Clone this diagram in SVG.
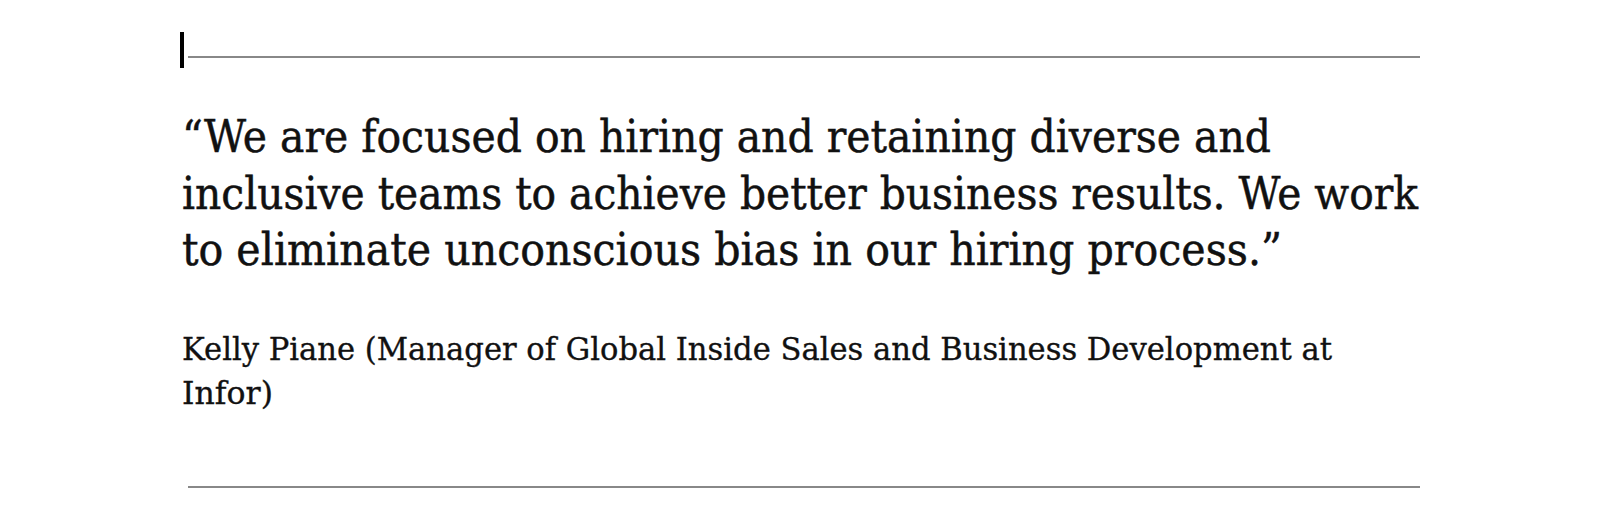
<svg xmlns="http://www.w3.org/2000/svg" width="1602" height="526" viewBox="0 0 1602 526">
  <style>
    .rule { stroke: #888888; stroke-width: 2; fill: none; }
    .quote { font-family: "DejaVu Serif", "Liberation Serif", serif; font-size: 45px; fill: #111111; stroke: #111111; stroke-width: 0.5px; }
    .attr { font-family: "DejaVu Serif", "Liberation Serif", serif; font-size: 32px; fill: #111111; stroke: #111111; stroke-width: 0.35px; }
  </style>
  <rect x="0" y="0" width="1602" height="526" fill="#ffffff"/>
  <g id="top-rule">
    <rect x="180" y="32" width="4" height="36" fill="#000000"/>
    <line class="rule" x1="188" y1="57" x2="1420" y2="57"/>
  </g>
  <g id="quote">
    <text class="quote" x="182" y="152" textLength="1089" lengthAdjust="spacingAndGlyphs">“We are focused on hiring and retaining diverse and</text>
    <text class="quote" x="182" y="209" textLength="1236" lengthAdjust="spacingAndGlyphs">inclusive teams to achieve better business results. We work</text>
    <text class="quote" x="182" y="265" textLength="1100" lengthAdjust="spacingAndGlyphs">to eliminate unconscious bias in our hiring process.”</text>
  </g>
  <g id="attribution">
    <text class="attr" x="182" y="360" textLength="1150" lengthAdjust="spacingAndGlyphs">Kelly Piane (Manager of Global Inside Sales and Business Development at</text>
    <text class="attr" x="182" y="404" textLength="91" lengthAdjust="spacingAndGlyphs">Infor)</text>
  </g>
  <g id="bottom-rule">
    <line class="rule" x1="188" y1="487" x2="1420" y2="487"/>
  </g>
</svg>
